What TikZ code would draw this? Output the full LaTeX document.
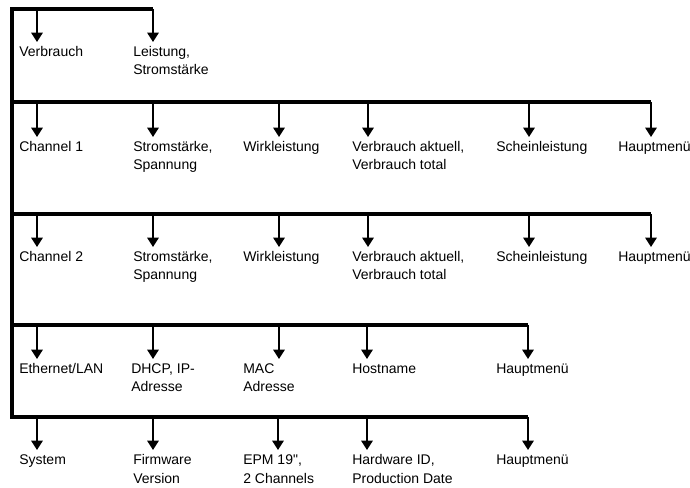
\documentclass[tikz,border=0pt]{standalone}
\usepackage{fontspec}
\setmainfont{Liberation Sans}[Ligatures=TeXOff]
\usetikzlibrary{arrows.meta}
\newcommand\mitem[6]{%
  \coordinate (b#1) at (#2,#3);
  \coordinate (t#1) at (#2,#4);
  \node[lbl] (n#1) at (#5,#4+15) {\begin{tabular}[t]{@{}l@{}}#6\end{tabular}};
  \draw[arr] (b#1) -- (t#1);
}
\begin{document}
\begin{tikzpicture}[x=0.75pt,y=-0.75pt,
  bar/.style={line width=3pt,line join=miter},
  arr/.style={line width=1.5pt,-{Triangle[width=8.5pt,length=7pt]}},
  lbl/.style={anchor=base west,inner sep=0pt,
    font=\fontsize{10.5pt}{13.5pt}\selectfont}]
\useasboundingbox[fill=white] (0,0) rectangle (690,488);
% bars
\coordinate (top) at (11.5,9);
\coordinate (bot) at (11.5,417);
\draw[bar] (153,9) -- (top) -- (bot) -- (528,417);
\draw[bar] (11.5,102) -- (651,102);
\draw[bar] (11.5,214) -- (651,214);
\draw[bar] (11.5,325) -- (528,325);
% row 0
\mitem{0a}{37}{9}{42}{19}{Verbrauch}
\mitem{0b}{153}{9}{42}{133}{Leistung,\\Stromstärke}
% row 1
\mitem{1a}{37}{102}{137}{19}{Channel 1}
\mitem{1b}{153}{102}{137}{133}{Stromstärke,\\Spannung}
\mitem{1c}{279}{102}{137}{243}{Wirkleistung}
\mitem{1d}{368}{102}{137}{352}{Verbrauch aktuell,\\Verbrauch total}
\mitem{1e}{529}{102}{137}{496}{Scheinleistung}
\mitem{1f}{651}{102}{137}{618}{Hauptmenü}
% row 2
\mitem{2a}{37}{214}{247}{19}{Channel 2}
\mitem{2b}{153}{214}{247}{133}{Stromstärke,\\Spannung}
\mitem{2c}{279}{214}{247}{243}{Wirkleistung}
\mitem{2d}{368}{214}{247}{352}{Verbrauch aktuell,\\Verbrauch total}
\mitem{2e}{529}{214}{247}{496}{Scheinleistung}
\mitem{2f}{651}{214}{247}{618}{Hauptmenü}
% row 3
\mitem{3a}{37}{325}{359}{19}{Ethernet/LAN}
\mitem{3b}{153}{325}{359}{131}{DHCP, IP-\\Adresse}
\mitem{3c}{279}{325}{359}{243}{MAC\\Adresse}
\mitem{3d}{367}{325}{359}{352}{Hostname}
\mitem{3e}{528}{325}{359}{496}{Hauptmenü}
% row 4
\mitem{4a}{37}{417}{450}{19}{System}
\mitem{4b}{153}{417}{450}{133}{Firmware\\Version}
\mitem{4c}{278}{417}{450}{243}{EPM 19",\\2 Channels}
\mitem{4d}{367}{417}{450}{352}{Hardware ID,\\Production Date}
\mitem{4e}{528}{417}{450}{496}{Hauptmenü}
\end{tikzpicture}
\end{document}
